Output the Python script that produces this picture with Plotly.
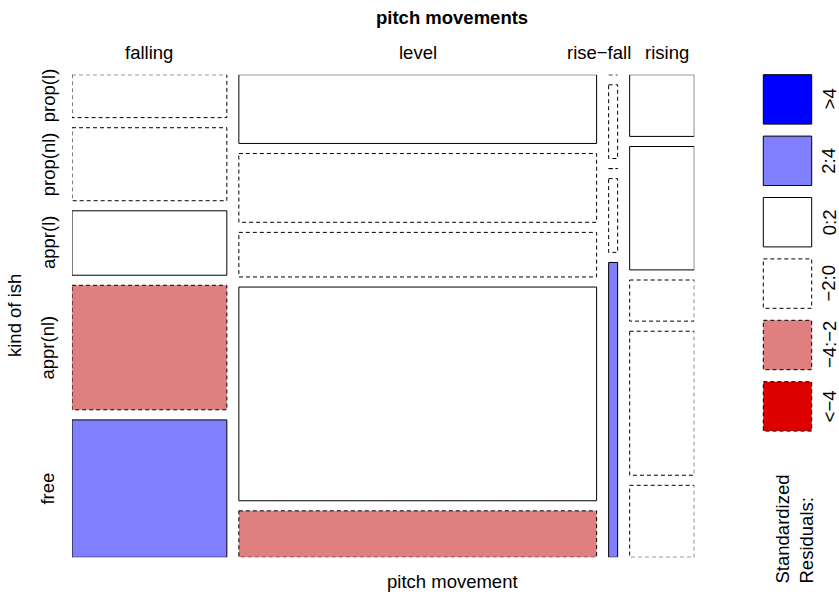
import numpy as np
import plotly.graph_objects as go

# ---- data: counts of "kind of ish" by pitch movement ----
pitch = ["falling", "level", "rise\u2212fall", "rising"]
ish = ["prop(l)", "prop(nl)", "appr(l)", "appr(nl)", "free"]
falling = [10, 17, 15, 29, 32]
level = [37, 37, 24, 115, 25]
rise_fall = [0, 1, 0, 1, 4]
rising = [6, 12, 4, 14, 7]

legend_labels = [">4", "2:4", "0:2", "\u22122:0", "\u22124:\u22122", "<\u22124"]
legend_fill = ["#0000FF", "#8080FF", "#FFFFFF", "#FFFFFF", "#E07F7F", "#DD0000"]
legend_dash = ["solid", "solid", "solid", "dash", "dash", "dash"]

FONT = "Liberation Sans, Arial, Helvetica, sans-serif"
FS = 18.5
W, H = 839, 595
DASH = "4px,3px"

tab = np.array([falling, level, rise_fall, rising], dtype=float)  # (pitch, ish)
N = tab.sum()
col_tot = tab.sum(axis=1)
row_tot = tab.sum(axis=0)
expected = np.outer(col_tot, row_tot) / N
resid = (tab - expected) / np.sqrt(expected)


def shade(r):
    if r > 4:
        return legend_fill[0], "solid"
    if r > 2:
        return legend_fill[1], "solid"
    if r >= 0:
        return legend_fill[2], "solid"
    if r >= -2:
        return legend_fill[3], DASH
    if r >= -4:
        return legend_fill[4], DASH
    return legend_fill[5], DASH


# mosaic geometry in unit space (x: 0..1 left->right, y: 0..1 top->bottom)
gx, gy = 0.0193, 0.0209
cw = col_tot / N * (1 - gx * (len(pitch) - 1))
x_left = np.concatenate([[0], np.cumsum(cw + gx)[:-1]])

fig = go.Figure()
shapes = []
row_centers = []
for j in range(len(pitch)):
    ch = tab[j] / col_tot[j] * (1 - gy * (len(ish) - 1))
    y_top = np.concatenate([[0], np.cumsum(ch + gy)[:-1]])
    for i in range(len(ish)):
        fill, dash = shade(resid[j, i])
        shapes.append(dict(
            type="rect", xref="x", yref="y",
            x0=x_left[j], x1=x_left[j] + cw[j],
            y0=y_top[i], y1=y_top[i] + ch[i],
            fillcolor=fill, line=dict(color="black", width=1, dash=dash),
            layer="above",
        ))
        if j == 0:
            row_centers.append(y_top[i] + ch[i] / 2)

annotations = []
# column labels (the two narrow columns' labels are nudged apart so they don't collide)
label_shift = [0, 0, -14, 5]
for j, name in enumerate(pitch):
    annotations.append(dict(
        text=name, xref="x", yref="paper", x=x_left[j] + cw[j] / 2, y=1 - 52 / H,
        xshift=label_shift[j],
        showarrow=False, xanchor="center", yanchor="middle",
        font=dict(family=FONT, size=FS, color="black"),
    ))
# row labels
for i, name in enumerate(ish):
    annotations.append(dict(
        text=name, xref="paper", yref="y", x=48 / W, y=row_centers[i],
        showarrow=False, xanchor="center", yanchor="middle", textangle=-90,
        font=dict(family=FONT, size=FS, color="black"),
    ))
# titles
annotations += [
    dict(text="<b>pitch movements</b>", xref="paper", yref="paper",
         x=452 / W, y=1 - 17 / H, showarrow=False, xanchor="center", yanchor="middle",
         font=dict(family=FONT, size=FS, color="black")),
    dict(text="pitch movement", xref="paper", yref="paper",
         x=452 / W, y=1 - 581 / H, showarrow=False, xanchor="center", yanchor="middle",
         font=dict(family=FONT, size=FS, color="black")),
    dict(text="kind of ish", xref="paper", yref="paper",
         x=14 / W, y=1 - 316 / H, showarrow=False, xanchor="center", yanchor="middle",
         textangle=-90, font=dict(family=FONT, size=FS, color="black")),
]

# shading legend
lx0, lx1 = 763.3, 811.7
ltop, lstep, lh = 74.7, 61.4, 49.4
for k, lab in enumerate(legend_labels):
    t = ltop + k * lstep
    shapes.append(dict(
        type="rect", xref="paper", yref="paper",
        x0=lx0 / W, x1=lx1 / W, y0=1 - t / H, y1=1 - (t + lh) / H,
        fillcolor=legend_fill[k],
        line=dict(color="black", width=1,
                  dash=DASH if legend_dash[k] == "dash" else "solid"),
    ))
    annotations.append(dict(
        text=lab, xref="paper", yref="paper", x=829 / W, y=1 - (t + lh / 2) / H,
        showarrow=False, xanchor="center", yanchor="middle", textangle=-90,
        font=dict(family=FONT, size=FS, color="black"),
    ))
annotations.append(dict(
    text="Standardized<br>Residuals:", xref="paper", yref="paper",
    x=794 / W, y=1 - 586 / H, showarrow=False, xanchor="center", yanchor="bottom",
    textangle=-90, align="left",
    font=dict(family=FONT, size=FS, color="black"),
))

fig.update_layout(
    width=W, height=H,
    margin=dict(l=0, r=0, t=0, b=0),
    paper_bgcolor="white", plot_bgcolor="white",
    showlegend=False,
    xaxis=dict(range=[0, 1], domain=[72 / W, 694.3 / W], visible=False, fixedrange=True),
    yaxis=dict(range=[1, 0], domain=[1 - 557.3 / H, 1 - 74.7 / H], visible=False, fixedrange=True),
    shapes=shapes,
    annotations=annotations,
)

fig.write_html("out.html")
